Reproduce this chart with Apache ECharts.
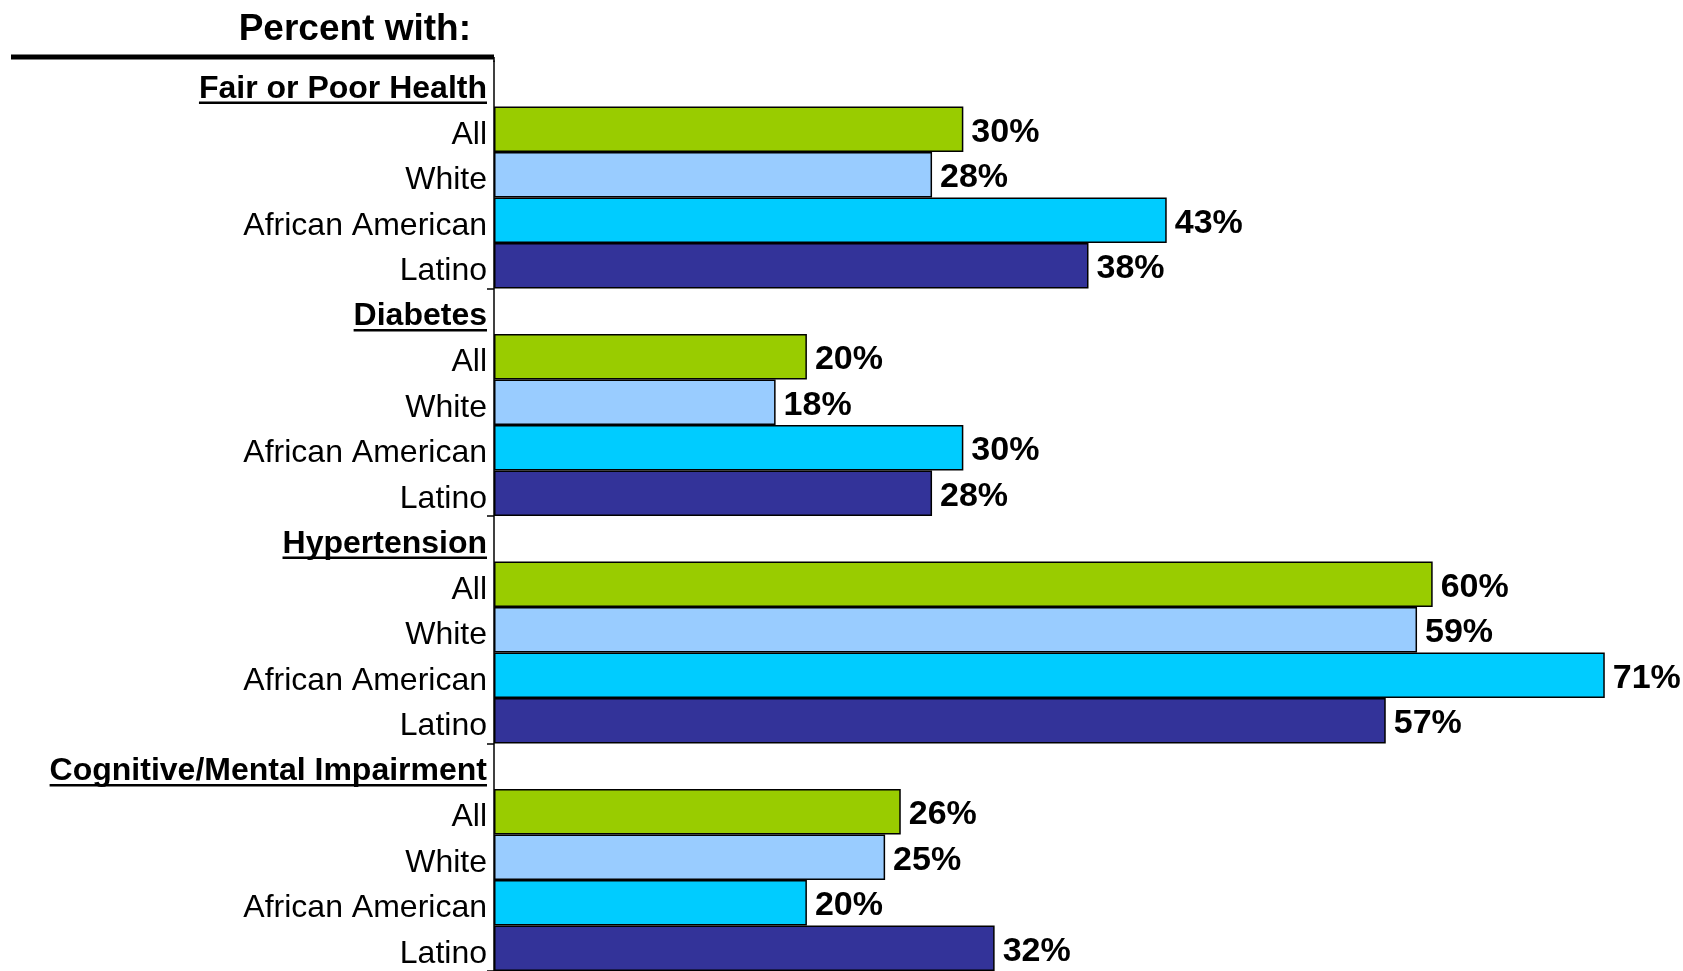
<!DOCTYPE html>
<html>
<head>
<meta charset="utf-8">
<script src="https://cdn.jsdelivr.net/npm/echarts@6/dist/echarts.min.js"></script>
<style>
html,body{margin:0;padding:0;background:#fff;}
#chart{width:1683px;height:971px;}
</style>
</head>
<body>
<div id="chart"></div>
<script>
// ---- data ----
const titleText = 'Percent with:';
const conditions = ['Fair or Poor Health', 'Diabetes', 'Hypertension', 'Cognitive/Mental Impairment'];
const groups = ['All', 'White', 'African American', 'Latino'];
const allValues = [30, 20, 60, 26];
const whiteValues = [28, 18, 59, 25];
const africanAmericanValues = [43, 30, 71, 20];
const latinoValues = [38, 28, 57, 32];
const groupColors = ['#99CC00', '#99CCFF', '#00CCFF', '#333399'];

// ---- build category rows ----
const groupValues = [allValues, whiteValues, africanAmericanValues, latinoValues];
const categories = [];
const isHeader = [];
const barData = [];
conditions.forEach(function (cond, ci) {
  categories.push(cond); isHeader.push(true); barData.push('-');
  groups.forEach(function (g, gi) {
    categories.push(g); isHeader.push(false);
    barData.push({ value: groupValues[gi][ci], itemStyle: { color: groupColors[gi] } });
  });
});

const FONT = "'Liberation Sans', Arial, sans-serif";
const GRID_LEFT = 494;
const LABEL_MARGIN = 7;

const chart = echarts.init(document.getElementById('chart'));
chart.setOption({
  animation: false,
  backgroundColor: '#fff',
  title: {
    text: titleText,
    right: 1683 - 476,
    top: 6,
    textStyle: { fontFamily: FONT, fontSize: 37, fontWeight: 'bold', color: '#000' }
  },
  grid: { left: GRID_LEFT, top: 61, height: 915, right: 0, containLabel: false },
  xAxis: {
    type: 'value', min: 0, max: 76,
    show: false
  },
  yAxis: {
    type: 'category',
    inverse: true,
    data: categories,
    axisLine: { show: true, lineStyle: { color: '#000', width: 1.5 } },
    axisTick: {
      show: true, length: 7, inside: false,
      lineStyle: { color: '#000', width: 1.5 },
      interval: function (index) { return index > 0 && index % 5 === 0; }
    },
    axisLabel: {
      interval: 0,
      margin: LABEL_MARGIN,
      formatter: function (value, index) {
        return isHeader[index] ? '{h|' + value + '}' : '{n|' + value + '}';
      },
      rich: {
        h: { fontFamily: FONT, fontSize: 32, fontWeight: 'bold', color: '#000', padding: [10, 0, 0, 0] },
        n: { fontFamily: FONT, fontSize: 32, color: '#000', padding: [11, 0, 0, 0] }
      }
    },
    splitLine: { show: false }
  },
  series: [{
    type: 'bar',
    data: barData,
    barWidth: '100%',
    barCategoryGap: '0%',
    itemStyle: { borderColor: '#000', borderWidth: 1.5 },
    label: {
      show: true, position: 'right', distance: 8, offset: [0, 3],
      formatter: '{c}%',
      fontFamily: FONT, fontSize: 34, fontWeight: 'bold', color: '#000'
    }
  }]
});

// ---- decorations: top rule and header underlines, placed from the axis ----
const ctx = document.createElement('canvas').getContext('2d');
ctx.font = "bold 32px " + FONT;
const graphics = [{
  type: 'line',
  shape: { x1: 11, y1: 57, x2: GRID_LEFT, y2: 57 },
  style: { stroke: '#000', lineWidth: 5 }
}, {
  type: 'line',
  shape: { x1: GRID_LEFT, y1: 57, x2: GRID_LEFT, y2: 62 },
  style: { stroke: '#000', lineWidth: 1.5 }
}];
categories.forEach(function (c, i) {
  if (!isHeader[i]) return;
  const y = chart.convertToPixel({ yAxisIndex: 0 }, i);
  const w = ctx.measureText(c).width;
  const xr = GRID_LEFT - LABEL_MARGIN;
  graphics.push({
    type: 'line',
    shape: { x1: xr - w, y1: y + 19, x2: xr, y2: y + 19 },
    style: { stroke: '#000', lineWidth: 2.5 }
  });
});
chart.setOption({ graphic: graphics });
</script>
</body>
</html>
